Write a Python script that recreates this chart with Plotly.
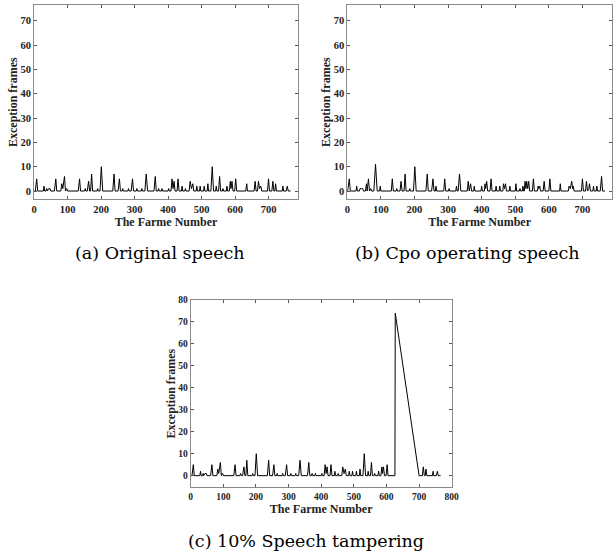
import plotly.graph_objects as go

# ---------------- data (vertices of the polylines) ----------------
orig_frames = [1, 4, 8, 11,
               28, 30, 32,
               36, 38, 40, 44, 48, 50,
               61, 65, 68,
               80, 83, 86, 91, 94, 98, 100,
               132, 136, 139,
               151, 153, 155,
               159, 163, 166, 169, 172, 175,
               188, 190, 192,
               197, 201, 205,
               235, 239, 242,
               251, 255, 258, 263, 265, 267,
               280, 282, 284,
               290, 294, 297,
               305, 307, 309,
               320, 322, 324,
               331, 335, 339,
               358, 362, 365, 370, 372, 374,
               380, 382, 384,
               400, 402, 404,
               409, 412, 415, 418, 421,
               427, 430, 433,
               440, 442, 444,
               450, 452, 454,
               463, 466, 470, 474, 477,
               484, 486, 488,
               494, 496, 498,
               506, 508, 510,
               517, 519, 521,
               528, 532, 536,
               542, 544, 546,
               551, 554, 557,
               562, 564, 566,
               574, 576, 578,
               583, 586, 588, 591, 594,
               599, 602, 605,
               632, 635, 637,
               657, 660, 663, 667, 670, 673, 677, 680,
               697, 700, 703,
               710, 713, 716, 719, 721, 724,
               741, 743, 745,
               753, 756, 759,
               766]
orig_values = [0, 0, 5, 0,
               0, 2, 0,
               0, 1, 0, 1, 1, 0,
               0, 5, 0,
               0, 3, 1, 6, 0, 1, 0,
               0, 5, 0,
               0, 1, 0,
               0, 4, 0, 0, 7, 0,
               0, 1, 0,
               0, 10, 0,
               0, 7, 0,
               0, 5, 0, 0, 1, 0,
               0, 1, 0,
               0, 5, 0,
               0, 1, 0,
               0, 1, 0,
               0, 7, 0,
               0, 6, 0, 0, 1, 0,
               0, 1, 0,
               0, 1, 0,
               0, 5, 1, 4, 0,
               0, 5, 0,
               0, 2, 0,
               0, 1, 0,
               0, 4, 1, 3, 0,
               0, 2, 0,
               0, 2, 0,
               0, 2, 0,
               0, 3, 0,
               0, 10, 0,
               0, 2, 0,
               0, 6, 0,
               0, 1, 0,
               0, 2, 0,
               0, 4, 1, 4, 0,
               0, 5, 0,
               0, 3, 0,
               0, 4, 0, 0, 4, 1, 2, 0,
               0, 5, 0,
               0, 4, 0, 0, 3, 0,
               0, 2, 0,
               0, 2, 0,
               0]

cpo_frames = [1, 6, 9,
              26, 28, 30,
              36, 38, 42, 46, 48,
              54, 57, 59, 63, 66, 70, 72,
              79, 84, 89,
              96, 98, 100,
              131, 134, 137,
              145, 147, 149,
              157, 160, 163, 169, 172, 175,
              184, 186, 188,
              197, 201, 205,
              234, 238, 241,
              251, 255, 258, 262, 264, 266,
              287, 290, 293,
              301, 303, 305,
              323, 325, 327,
              330, 334, 338,
              357, 360, 363, 367, 370,
              376, 378, 380,
              398, 400, 402,
              408, 410, 412, 415, 418,
              425, 428, 431,
              441, 443, 445,
              452, 454, 456,
              463, 465, 468, 471, 474,
              482, 484, 486,
              500, 502, 504,
              512, 514, 516,
              521, 523, 525,
              527, 529, 532, 534, 537, 540, 543,
              551, 554, 557,
              566, 568, 570, 573, 575,
              583, 586, 589,
              600, 603, 606,
              632, 634, 636,
              658, 660, 664, 668, 671, 673, 675,
              697, 700, 703,
              709, 712, 715, 719, 721, 724,
              731, 733, 735,
              741, 743, 745,
              753, 757, 760,
              767]
cpo_values = [0, 5, 0,
              0, 2, 0,
              0, 1, 1, 1, 0,
              0, 3, 0, 5, 0, 1, 0,
              0, 11, 0,
              0, 2, 0,
              0, 5, 0,
              0, 1, 0,
              0, 4, 0, 0, 7, 0,
              0, 1, 0,
              0, 10, 0,
              0, 7, 0,
              0, 5, 0, 0, 2, 0,
              0, 5, 0,
              0, 1, 0,
              0, 2, 0,
              0, 7, 0,
              0, 4, 0, 3, 0,
              0, 2, 0,
              0, 2, 0,
              0, 3, 1, 4, 0,
              0, 5, 0,
              0, 2, 0,
              0, 2, 0,
              0, 3, 1, 3, 0,
              0, 2, 0,
              0, 3, 0,
              0, 1, 0,
              0, 2, 0,
              0, 4, 1, 4, 1, 4, 0,
              0, 5, 0,
              0, 2, 1, 2, 0,
              0, 4, 0,
              0, 5, 0,
              0, 3, 0,
              0, 2, 1, 4, 1, 2, 0,
              0, 5, 0,
              0, 4, 0, 1, 3, 0,
              0, 2, 0,
              0, 2, 0,
              0, 6, 0,
              0]

# tampered speech: original up to frame 605, then the tampered block
tamper_frames = [626, 627, 700,
                 710, 713, 716, 719, 721, 724,
                 741, 743, 745,
                 753, 756, 759,
                 766]
tamper_values = [0, 74, 0,
                 0, 4, 0, 0, 3, 0,
                 0, 2, 0,
                 0, 2, 0,
                 0]
cut = orig_frames.index(605) + 1
tampered_frames = orig_frames[:cut] + tamper_frames
tampered_values = orig_values[:cut] + tamper_values

captions = ["(a) Original speech", "(b) Cpo operating speech", "(c) 10% Speech tampering"]
x_title = "The Farme Number"
y_title = "Exception frames"

# ---------------- figure ----------------
W, H = 613, 556
fig = go.Figure()

def px_x(p):
    return p / W

def px_y(p):
    return 1 - p / H

panels = [
    dict(frames=orig_frames, values=orig_values, xd=[34, 298], yd=[5, 199.3],
         xr=[0, 788], yr=[-3.4, 76.5], xt=list(range(0, 701, 100)), yt=list(range(0, 71, 10)),
         tick=10.5),
    dict(frames=cpo_frames, values=cpo_values, xd=[347.3, 612], yd=[5, 199.3],
         xr=[0, 788], yr=[-3.4, 76.5], xt=list(range(0, 701, 100)), yt=list(range(0, 71, 10)),
         tick=10.5),
    dict(frames=tampered_frames, values=tampered_values, xd=[190.7, 451.7], yd=[300, 487.3],
         xr=[0, 800], yr=[-5.3, 80], xt=list(range(0, 801, 100)), yt=list(range(0, 81, 10)),
         tick=9.5),
]

serif = "Liberation Serif"
for i, p in enumerate(panels, start=1):
    xa = "x" if i == 1 else f"x{i}"
    ya = "y" if i == 1 else f"y{i}"
    fig.add_trace(go.Scatter(x=p["frames"], y=p["values"], mode="lines",
                             line=dict(color="black", width=1), xaxis=xa, yaxis=ya,
                             showlegend=False, hoverinfo="skip"))
    axis_common = dict(showgrid=False, zeroline=False, showline=True, linecolor="#8a8a8a",
                       linewidth=1, mirror="ticks", ticks="inside", ticklen=3, tickwidth=1,
                       tickcolor="#555555", automargin=False,
                       tickfont=dict(family=serif, size=p["tick"], color="#222222", weight="bold"))
    xname = "xaxis" if i == 1 else f"xaxis{i}"
    yname = "yaxis" if i == 1 else f"yaxis{i}"
    fig.update_layout(**{
        xname: dict(axis_common, domain=[px_x(p["xd"][0]), px_x(p["xd"][1])], range=p["xr"],
                    tickvals=p["xt"], anchor=ya,
                    title=dict(text=x_title, standoff=2,
                               font=dict(family=serif, size=12, color="#222222", weight="bold"))),
        yname: dict(axis_common, domain=[px_y(p["yd"][1]), px_y(p["yd"][0])], range=p["yr"],
                    tickvals=p["yt"], anchor=xa,
                    title=dict(text=y_title, standoff=0,
                               font=dict(family=serif, size=12, color="#222222", weight="bold"))),
    })

cap_font = dict(family="DejaVu Serif", size=17.5, color="black")
for text, cx, cy in [(captions[0], 160, 253), (captions[1], 468, 253), (captions[2], 306, 541)]:
    fig.add_annotation(text=text, x=px_x(cx), y=px_y(cy), xref="paper", yref="paper",
                       showarrow=False, xanchor="center", yanchor="middle", font=cap_font)

fig.update_layout(width=W, height=H, margin=dict(l=0, r=0, t=0, b=0),
                  paper_bgcolor="white", plot_bgcolor="white")

fig.write_html("out.html", config={"displayModeBar": False},
               post_script="document.body.style.margin='0';document.body.style.overflow='hidden';")
